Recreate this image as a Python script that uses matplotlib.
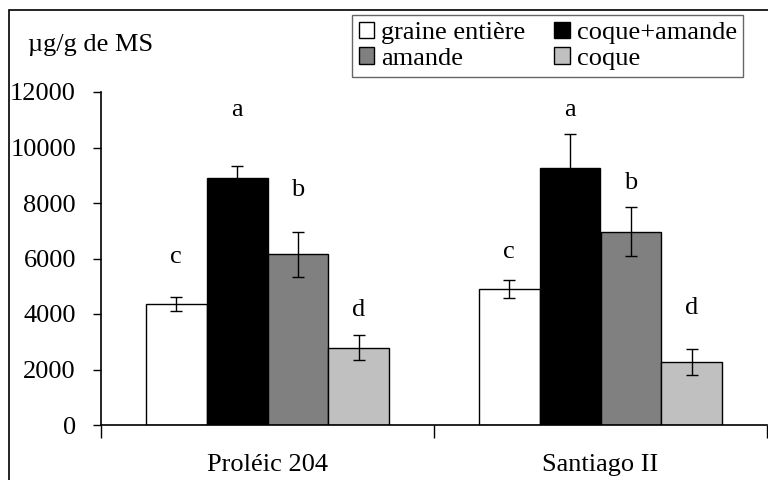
import numpy as np
import matplotlib
matplotlib.use("Agg")
import matplotlib.pyplot as plt
from matplotlib.patches import Rectangle

plt.rcParams['font.family'] = ['Liberation Serif', 'DejaVu Serif']

# data
varieties = ['Proléic 204', 'Santiago II']
fractions = ['graine entière', 'coque+amande', 'amande', 'coque']
colors = ['white', 'black', '#808080', '#c0c0c0']

values = [[4350, 8900, 6150, 2780],
          [4900, 9250, 6970, 2280]]
errors = [[250, 450, 800, 450],
          [320, 1250, 890, 470]]
letters = ['c', 'a', 'b', 'd']
letter_y = [[6050, 11350, 8470, 4140],
            [6230, 11350, 8720, 4220]]

fig = plt.figure(figsize=(7.68, 4.8), dpi=100)
ax = fig.add_axes([101/768, 55/480, 666/768, 333/480])

x = np.arange(len(varieties))
w = 0.183
bars = []
for i in range(len(fractions)):
    pos = x + (i - 1.5) * w
    vals = [values[g][i] for g in range(len(varieties))]
    errs = [errors[g][i] for g in range(len(varieties))]
    b = ax.bar(pos, vals, width=w, color=colors[i], edgecolor='black', linewidth=1, label=fractions[i], zorder=2)
    ax.errorbar(pos, vals, yerr=errs, fmt='none', ecolor='black', elinewidth=1, capsize=4, capthick=1, zorder=3)
    bars.append(b)
    for g in range(len(varieties)):
        ax.text(pos[g], letter_y[g][i], letters[i], ha='center', va='center', fontsize=19)

ax.set_ylim(0, 12000)
ax.set_xlim(-0.5, 1.5)
ax.set_yticks(range(0, 12001, 2000))
ax.tick_params(axis='y', direction='out', length=6, width=1, labelsize=19, pad=12)
ax.set_xticks([-0.5, 0.5, 1.5])
ax.set_xticklabels([])
ax.tick_params(axis='x', direction='out', length=9, width=1)
ax.spines['top'].set_visible(False)
ax.spines['right'].set_visible(False)
for s in ['left', 'bottom']:
    ax.spines[s].set_linewidth(1.2)

for g, name in enumerate(varieties):
    ax.text(x[g], -1450, name, ha='center', va='center', fontsize=19)

fig.text(28/768, 1 - 45/480, 'µg/g de MS', ha='left', va='center', fontsize=19)

# legend: row 1 graine entière / coque+amande, row 2 amande / coque
order = [0, 2, 1, 3]
leg = fig.legend([bars[k] for k in order], [fractions[k] for k in order],
                 ncol=2, loc='upper left', bbox_to_anchor=(352/768, 1 - 15/480),
                 fontsize=19, frameon=True, fancybox=False, edgecolor='#404040',
                 handlelength=0.6, handleheight=0.6, handletextpad=0.25,
                 labelspacing=0.12, borderpad=0.25, columnspacing=1.1, borderaxespad=0)
leg.get_frame().set_linewidth(1)

# outer frame
fig.patches.append(Rectangle((9/768, -0.05), 1.1, 1 - 10/480 + 0.05, transform=fig.transFigure,
                             fill=False, edgecolor='black', linewidth=1.2))

fig.savefig('out.png', dpi=100)
